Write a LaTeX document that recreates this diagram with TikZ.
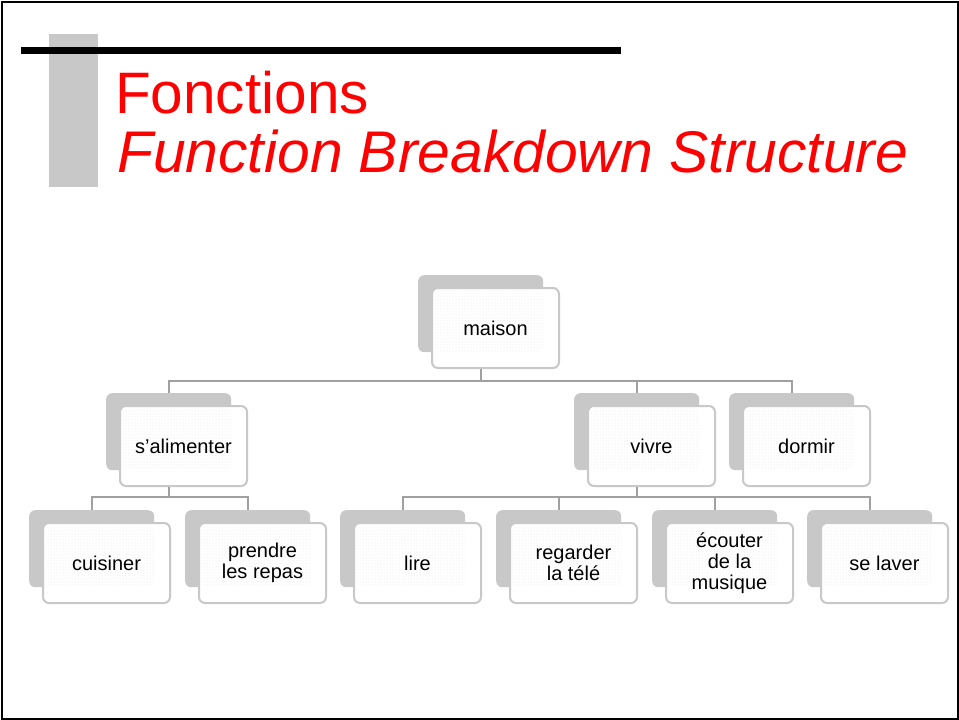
\documentclass[tikz,border=0pt]{standalone}
\usepackage{fontspec}
\setmainfont{Liberation Sans}
\usetikzlibrary{patterns}
\definecolor{backgray}{HTML}{C8C8C8}
\definecolor{edgegray}{HTML}{C8C8C8}
\definecolor{linkgray}{HTML}{A0A0A0}
\definecolor{titlered}{HTML}{FF0000}
\definecolor{dotgray}{HTML}{E4E4E4}
\tikzset{
  backbox/.style={anchor=north west, minimum width=125pt, minimum height=77pt,
    inner sep=0pt, rounded corners=6pt, fill=backgray},
  frontbox/.style={anchor=north west, minimum width=127pt, minimum height=80pt,
    inner sep=2pt, rounded corners=6pt, fill=white, draw=edgegray, line width=2pt,
    align=center, font=\fontsize{20}{21}\selectfont, text=black,
    path picture={\fill[pattern=dots, pattern color=dotgray]
      ([xshift=2pt,yshift=-2pt]path picture bounding box.north west) rectangle
      ([xshift=-16pt,yshift=16pt]path picture bounding box.south east);}},
  link/.style={draw=linkgray, line width=2pt},
  titletext/.style={anchor=base west, inner sep=0pt, text=titlered,
    font=\fontsize{58.5}{60}\selectfont}
}
\newcommand\fbsbox[4]{%
  \node[backbox] (#1B) at (#2,#3) {};
  \node[frontbox] (#1) at (#2+13,#3+12) {#4};
}
\begin{document}
\begin{tikzpicture}[x=1pt,y=-1pt]
\useasboundingbox (0,0) rectangle (959,720);
\draw[line width=2pt] (1.5,1.5) rectangle (957.5,718.5);
% title decoration
\fill[backgray] (49,34) rectangle (98,187);
\fill[black] (21,47) rectangle (621,54);
\node[titletext] (t1) at (115,113) {Fonctions};
\node[titletext, font=\fontsize{58.8}{60}\selectfont\itshape] (t2) at (117,172) {Function Breakdown Structure};
% boxes
\fbsbox{maison}{418}{275}{maison}
\fbsbox{salim}{106}{393}{s’alimenter}
\fbsbox{vivre}{574}{393}{vivre}
\fbsbox{dormir}{729}{393}{dormir}
\fbsbox{cuisiner}{29}{510}{cuisiner}
\fbsbox{prendre}{185}{510}{prendre\\les repas}
\fbsbox{lire}{340}{510}{lire}
\fbsbox{regarder}{496}{510}{regarder\\la télé}
\fbsbox{ecouter}{652}{510}{écouter\\de la\\musique}
\fbsbox{selaver}{807}{510}{se laver}
% connectors
\draw[link] (maisonB.south |- maison.south) -- ++(0,12) -| (salimB.north);
\draw[link] (maisonB.south |- maison.south) -- ++(0,12) -| (vivreB.north);
\draw[link] (maisonB.south |- maison.south) -- ++(0,12) -| (dormirB.north);
\draw[link] (salimB.south |- salim.south) -- ++(0,10) -| (cuisinerB.north);
\draw[link] (salimB.south |- salim.south) -- ++(0,10) -| (prendreB.north);
\draw[link] (vivreB.south |- vivre.south) -- ++(0,10) -| (lireB.north);
\draw[link] (vivreB.south |- vivre.south) -- ++(0,10) -| (regarderB.north);
\draw[link] (vivreB.south |- vivre.south) -- ++(0,10) -| (ecouterB.north);
\draw[link] (vivreB.south |- vivre.south) -- ++(0,10) -| (selaverB.north);
\end{tikzpicture}
\end{document}
